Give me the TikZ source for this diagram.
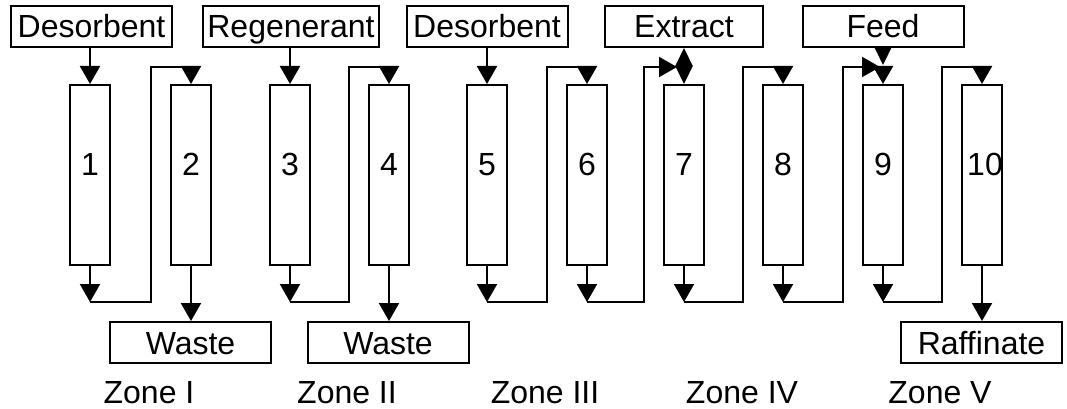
\documentclass[tikz,border=0pt]{standalone}
\usepackage{fontspec}
\setmainfont{Liberation Sans}
\usetikzlibrary{arrows.meta}
\begin{document}
\begin{tikzpicture}[x=1pt,y=-1pt,
  line width=2pt,
  every node/.style={font=\fontsize{32}{38}\selectfont, inner sep=0pt,
                     text height=23pt, text depth=0pt},
  colbox/.style={draw, minimum width=40pt, minimum height=180pt},
  iobox/.style={draw, minimum width=161pt, minimum height=41pt},
  flow/.style={-{Triangle[length=18pt,width=20pt]}},
  split/.style={-{Triangle[length=18pt,width=17pt]}}]
\useasboundingbox (0,0) rectangle (1067,409);

% the ten columns, with turn points of the loop lines
\foreach \i/\x in {1/90,2/191,3/290,4/389,5/487,6/587,7/684,8/783,9/883,10/982}{
  \node[colbox] (c\i) at (\x,175) {};
  \coordinate (b\i) at (\x,302);
  \coordinate (u\i) at (\x-40,67);
  \coordinate (t\i) at (\x,67);
}
\foreach \i/\x in {1/90,2/191,3/290,4/389,5/487,6/587,7/684,8/783,9/883}{
  \node (n\i) at (\x,164) {\i};
}
\node (n10) at (985,164) {10};

% inlet and outlet streams
\node[iobox] (des1) at (91.5,26.5) {Desorbent};
\node[iobox, minimum width=176pt] (reg) at (291,26.5) {Regenerant};
\node[iobox] (des2) at (487,26.5) {Desorbent};
\node[iobox, minimum width=158pt] (ext) at (684,26.5) {Extract};
\node[iobox] (feed) at (883,26.5) {Feed};
\node[iobox] (w1) at (190.5,342.5) {Waste};
\node[iobox] (w2) at (388,342.5) {Waste};
\node[iobox] (raf) at (981.5,342.5) {Raffinate};

% zone labels
\node (z1) at (149,392) {Zone I};
\node (z2) at (347,392) {Zone II};
\node (z3) at (545,392) {Zone III};
\node (z4) at (742,392) {Zone IV};
\node (z5) at (940,392) {Zone V};

% feeds into the columns
\draw[flow] (c1.north |- des1.south) -- (c1.north);
\draw[flow] (c3.north |- reg.south) -- (c3.north);
\draw[flow] (des2.south) -- (c5.north);

% column outlets
\foreach \i in {1,3,5,6,7,8,9}{
  \draw[flow] (c\i.south) -- (b\i);
}
\draw[flow] (c2.south) -- (c2.south |- w1.north);
\draw[flow] (c4.south) -- (c4.south |- w2.north);
\draw[flow] (c10.south) -- (c10.south |- raf.north);

% column-to-column transfer lines
\draw[flow] (b1) -| (u2) -- (t2) -- (c2.north);
\draw[flow] (b3) -| (u4) -- (t4) -- (c4.north);
\draw[flow] (b5) -| (u6) -- (t6) -- (c6.north);
\draw[flow] (b7) -| (u8) -- (t8) -- (c8.north);
\draw[flow] (b9) -| (u10) -- (t10) -- (c10.north);

% extract take-off ahead of column 7
\coordinate (k7) at (677,67);
\draw[flow] (b6) -| (u7) -- (k7);
\draw[split] (t7) -- (ext.south);
\draw[split] (t7) -- (c7.north);

% feed addition ahead of column 9
\coordinate (k9) at (880,67);
\coordinate (f9) at (883,65);
\draw[flow] (b8) -| (u9) -- (k9);
\draw[split] (feed.south) -- (f9);
\draw[flow] (t9) -- (c9.north);
\end{tikzpicture}
\end{document}
